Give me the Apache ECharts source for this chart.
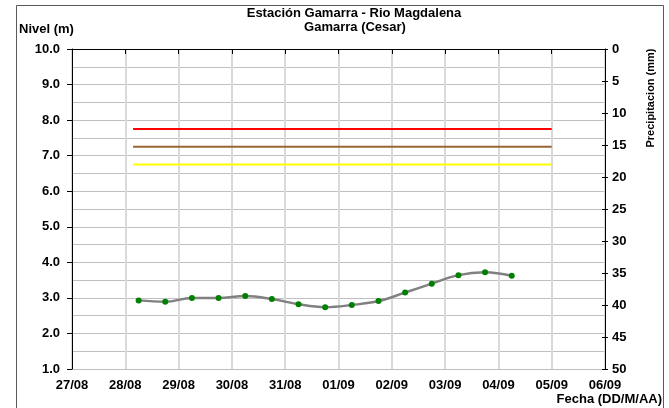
<!DOCTYPE html>
<html>
<head>
<meta charset="utf-8">
<script src="https://cdn.jsdelivr.net/npm/echarts@6/dist/echarts.min.js"></script>
<style>
  html, body { margin: 0; padding: 0; background: #fff; }
  #main { width: 669px; height: 408px; }
</style>
</head>
<body>
<div id="main"></div>
<script>
// etiquetas del eje de fechas (27/08 .. 06/09)
const dayLabels = ['27/08', '28/08', '29/08', '30/08', '31/08', '01/09', '02/09', '03/09', '04/09', '05/09', '06/09']
// lecturas de nivel (m), cada 12 horas
const nivelTimes = ['28/08 06:00', '28/08 18:00', '29/08 06:00', '29/08 18:00', '30/08 06:00',
  '30/08 18:00', '31/08 06:00', '31/08 18:00', '01/09 06:00', '01/09 18:00',
  '02/09 06:00', '02/09 18:00', '03/09 06:00', '03/09 18:00', '04/09 06:00']
const nivelValues = [2.93, 2.89, 3.00, 3.00, 3.05, 2.97, 2.82, 2.74, 2.80, 2.91, 3.15, 3.40, 3.64, 3.72, 3.62]
// niveles de alerta
const alertaRange = ['28/08 03:30', '05/09 00:00']
const alertaRoja = 7.75
const alertaNaranja = 7.25
const alertaAmarilla = 6.75

// dias desde 27/08 00:00
function dayOffset (s) {
  let parts = s.split(' ')
  let dm = parts[0].split('/')
  let hm = parts[1].split(':')
  let month = Number(dm[1]) - 1
  return (Date.UTC(2015, month, Number(dm[0]), Number(hm[0]), Number(hm[1])) - Date.UTC(2015, 7, 27)) / 864e5
}

let nivelData = nivelTimes.map(function (t, i) {
  return [dayOffset(t), nivelValues[i]]
})
function alertaData (v) {
  return alertaRange.map(function (t) { return [dayOffset(t), v] })
}

const font = 'Liberation Sans, Arial, sans-serif'
let labelStyle = { color: '#000', fontWeight: 'bold', fontSize: 13, fontFamily: font }

let myChart = echarts.init(document.getElementById('main'))
let option = {
  animation: false,
  backgroundColor: '#fff',
  grid: { left: 72, right: 64, top: 49, bottom: 39 },
  graphic: [
    { type: 'rect', shape: { x: 16.5, y: 5.5, width: 647, height: 420 }, style: { fill: null, stroke: '#595959', lineWidth: 1 } },
    { type: 'text', x: 354, y: 13, style: { text: 'Estación Gamarra - Rio Magdalena', textAlign: 'center', textVerticalAlign: 'middle', fill: '#000', font: 'bold 13px ' + font } },
    { type: 'text', x: 355, y: 27, style: { text: 'Gamarra (Cesar)', textAlign: 'center', textVerticalAlign: 'middle', fill: '#000', font: 'bold 13px ' + font } },
    { type: 'text', x: 19, y: 29, style: { text: 'Nivel (m)', textAlign: 'left', textVerticalAlign: 'middle', fill: '#000', font: 'bold 13px ' + font } },
    { type: 'text', x: 662, y: 399, style: { text: 'Fecha (DD/M/AA)', textAlign: 'right', textVerticalAlign: 'middle', fill: '#000', font: 'bold 13px ' + font } },
    // titulo del eje de precipitacion, girado
    { type: 'text', x: 651, y: 98, rotation: Math.PI / 2, style: { text: 'Precipitacion (mm)', textAlign: 'center', textVerticalAlign: 'middle', fill: '#000', font: 'bold 11px ' + font } }
  ],
  xAxis: {
    type: 'value',
    min: 0,
    max: 10,
    interval: 1,
    axisLine: { show: true, lineStyle: { color: '#000', width: 1 } },
    axisTick: { show: true, length: 5, lineStyle: { color: '#000' } },
    axisLabel: Object.assign({ margin: 10, formatter: function (v) { return dayLabels[Math.round(v)] } }, labelStyle),
    splitLine: { show: true, lineStyle: { color: '#d9d9d9', width: 2 } }
  },
  yAxis: [
    {
      type: 'value',
      min: 1,
      max: 10,
      interval: 1,
      position: 'left',
      axisLine: { show: true, lineStyle: { color: '#000', width: 1 } },
      axisTick: { show: true, length: 5, lineStyle: { color: '#000' } },
      axisLabel: Object.assign({ margin: 12, formatter: function (v) { return v.toFixed(1) } }, labelStyle),
      splitLine: { show: true, lineStyle: { color: '#bfbfbf', width: 1 } },
      minorTick: { show: false, splitNumber: 2 },
      minorSplitLine: { show: true, lineStyle: { color: '#bfbfbf', width: 1 } }
    },
    {
      type: 'value',
      min: 0,
      max: 50,
      interval: 5,
      inverse: true,
      position: 'right',
      axisLine: { show: true, lineStyle: { color: '#000', width: 1 } },
      axisTick: { show: true, length: 3, lineStyle: { color: '#000' } },
      axisLabel: Object.assign({ margin: 7 }, labelStyle),
      splitLine: { show: false }
    },
    {
      // marcas interiores del eje de precipitacion
      type: 'value',
      min: 0,
      max: 50,
      interval: 5,
      inverse: true,
      position: 'right',
      axisLine: { show: false },
      axisTick: { show: true, inside: true, length: 3, lineStyle: { color: '#000' } },
      axisLabel: { show: false },
      splitLine: { show: false }
    }
  ],
  series: [
    {
      name: 'Alerta roja',
      type: 'line',
      data: alertaData(alertaRoja),
      symbol: 'none',
      lineStyle: { color: '#ff0000', width: 2 }
    },
    {
      name: 'Alerta naranja',
      type: 'line',
      data: alertaData(alertaNaranja),
      symbol: 'none',
      lineStyle: { color: '#996633', width: 2 }
    },
    {
      name: 'Alerta amarilla',
      type: 'line',
      data: alertaData(alertaAmarilla),
      symbol: 'none',
      lineStyle: { color: '#ffff00', width: 2 }
    },
    {
      name: 'Nivel',
      type: 'line',
      data: nivelData,
      smooth: 0.4,
      symbol: 'circle',
      symbolSize: 6,
      lineStyle: { color: '#808080', width: 2.5 },
      itemStyle: { color: '#008000', borderWidth: 0 }
    }
  ]
}
myChart.setOption(option)
</script>
</body>
</html>
